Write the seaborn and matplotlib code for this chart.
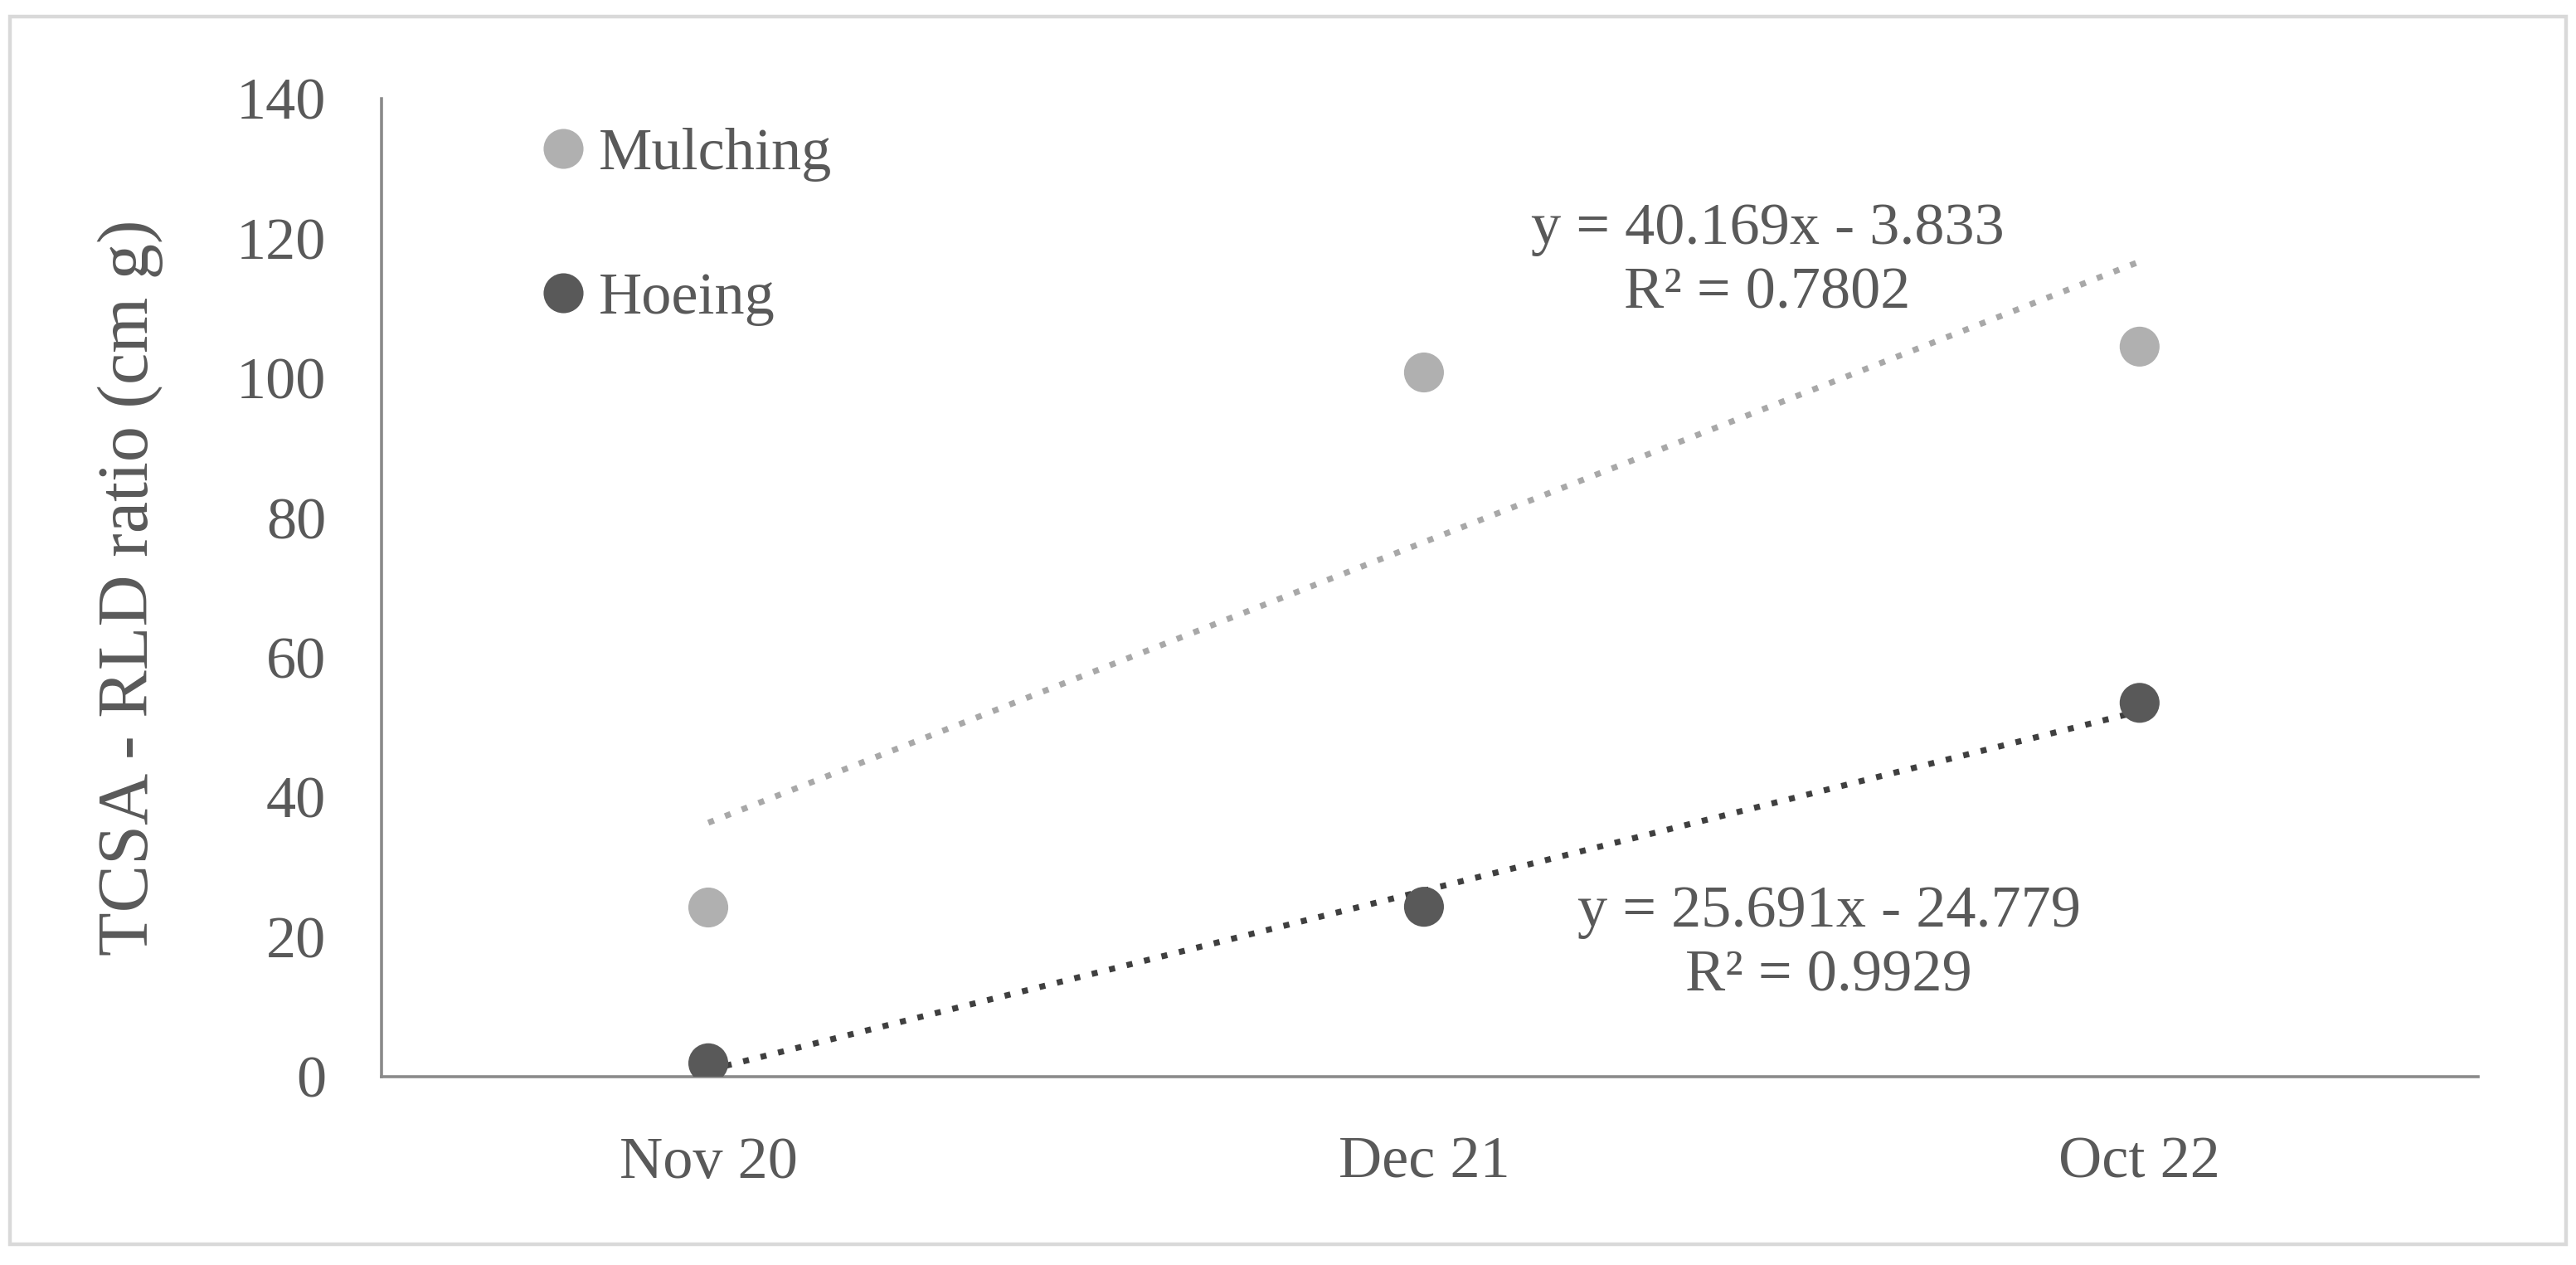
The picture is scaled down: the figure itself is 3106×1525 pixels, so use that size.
import numpy as np
import pandas as pd
import seaborn as sns
import matplotlib.pyplot as plt
from matplotlib.patches import Rectangle

# data
dates = ["Nov 20", "Dec 21", "Oct 22"]
mulching = [24.2, 100.8, 104.5]
hoeing = [1.9, 24.3, 53.5]

# Excel trendline coefficients (slope, intercept) and labels
mulch_fit = [40.169, -3.833]
hoe_fit = [25.691, -24.779]
mulch_eq = "y = 40.169x - 3.833\nR² = 0.7802"
hoe_eq = "y = 25.691x - 24.779\nR² = 0.9929"

yticks = [0, 20, 40, 60, 80, 100, 120, 140]

sns.set_style("white")
plt.rcParams["font.family"] = ["Liberation Serif", "DejaVu Serif"]

text_col = "#595959"
mulch_col = "#b0b0b0"
hoe_col = "#595959"

pos = np.arange(1, len(dates) + 1)
df = pd.DataFrame({
    "pos": np.concatenate([pos, pos]),
    "value": mulching + hoeing,
    "treatment": ["Mulching"] * len(dates) + ["Hoeing"] * len(dates),
})

fig = plt.figure(figsize=(15.53, 7.625), dpi=200)
ax = fig.add_axes([0.148, 0.149, 0.814, 0.773])

# trendlines first so points sit on top
xs = np.array([pos[0], pos[-1]])
ax.plot(xs, mulch_fit[0] * xs + mulch_fit[1], color="#a8a8a8", lw=2.6,
        linestyle=(0, (1, 2.0)), zorder=2)
ax.plot(xs, hoe_fit[0] * xs + hoe_fit[1], color="#3f3f3f", lw=2.6,
        linestyle=(0, (1, 2.0)), zorder=2)

sns.scatterplot(data=df, x="pos", y="value", hue="treatment",
                palette={"Mulching": mulch_col, "Hoeing": hoe_col},
                s=300, linewidth=0, ax=ax, zorder=3)

ax.set_xlim(0.543, 3.473)
ax.set_ylim(0, 140)
ax.set_xticks(pos)
ax.set_xticklabels(dates)
ax.set_yticks(yticks)
ax.tick_params(axis="both", length=0, labelsize=26, colors=text_col)
ax.tick_params(axis="y", pad=24)
ax.tick_params(axis="x", pad=26)
ax.set_xlabel("")
ax.set_ylabel("TCSA - RLD ratio (cm g)", fontsize=31, color=text_col)
ax.yaxis.set_label_coords(-0.104, 0.5)

for side in ["top", "right"]:
    ax.spines[side].set_visible(False)
for side in ["left", "bottom"]:
    ax.spines[side].set_color("#8a8a8a")
    ax.spines[side].set_linewidth(1.3)

ax.text(2.48, 116.7, mulch_eq, ha="center", va="center", fontsize=26,
        color=text_col, linespacing=1.25)
ax.text(2.566, 19.0, hoe_eq, ha="center", va="center", fontsize=26,
        color=text_col, linespacing=1.25)

leg = ax.legend(loc="upper left", bbox_to_anchor=(0.061, 0.995), frameon=False,
                fontsize=26, handlelength=1.0, handletextpad=0.1,
                labelspacing=1.5, markerscale=1.0, borderaxespad=0)
for t in leg.get_texts():
    t.set_color(text_col)

# light outer frame like the exported chart area
fig.patches.append(Rectangle((0.004, 0.0164), 0.992, 0.9706, transform=fig.transFigure,
                             fill=False, edgecolor="#d9d9d9", linewidth=1.6))

fig.savefig("out.png", dpi=200)
